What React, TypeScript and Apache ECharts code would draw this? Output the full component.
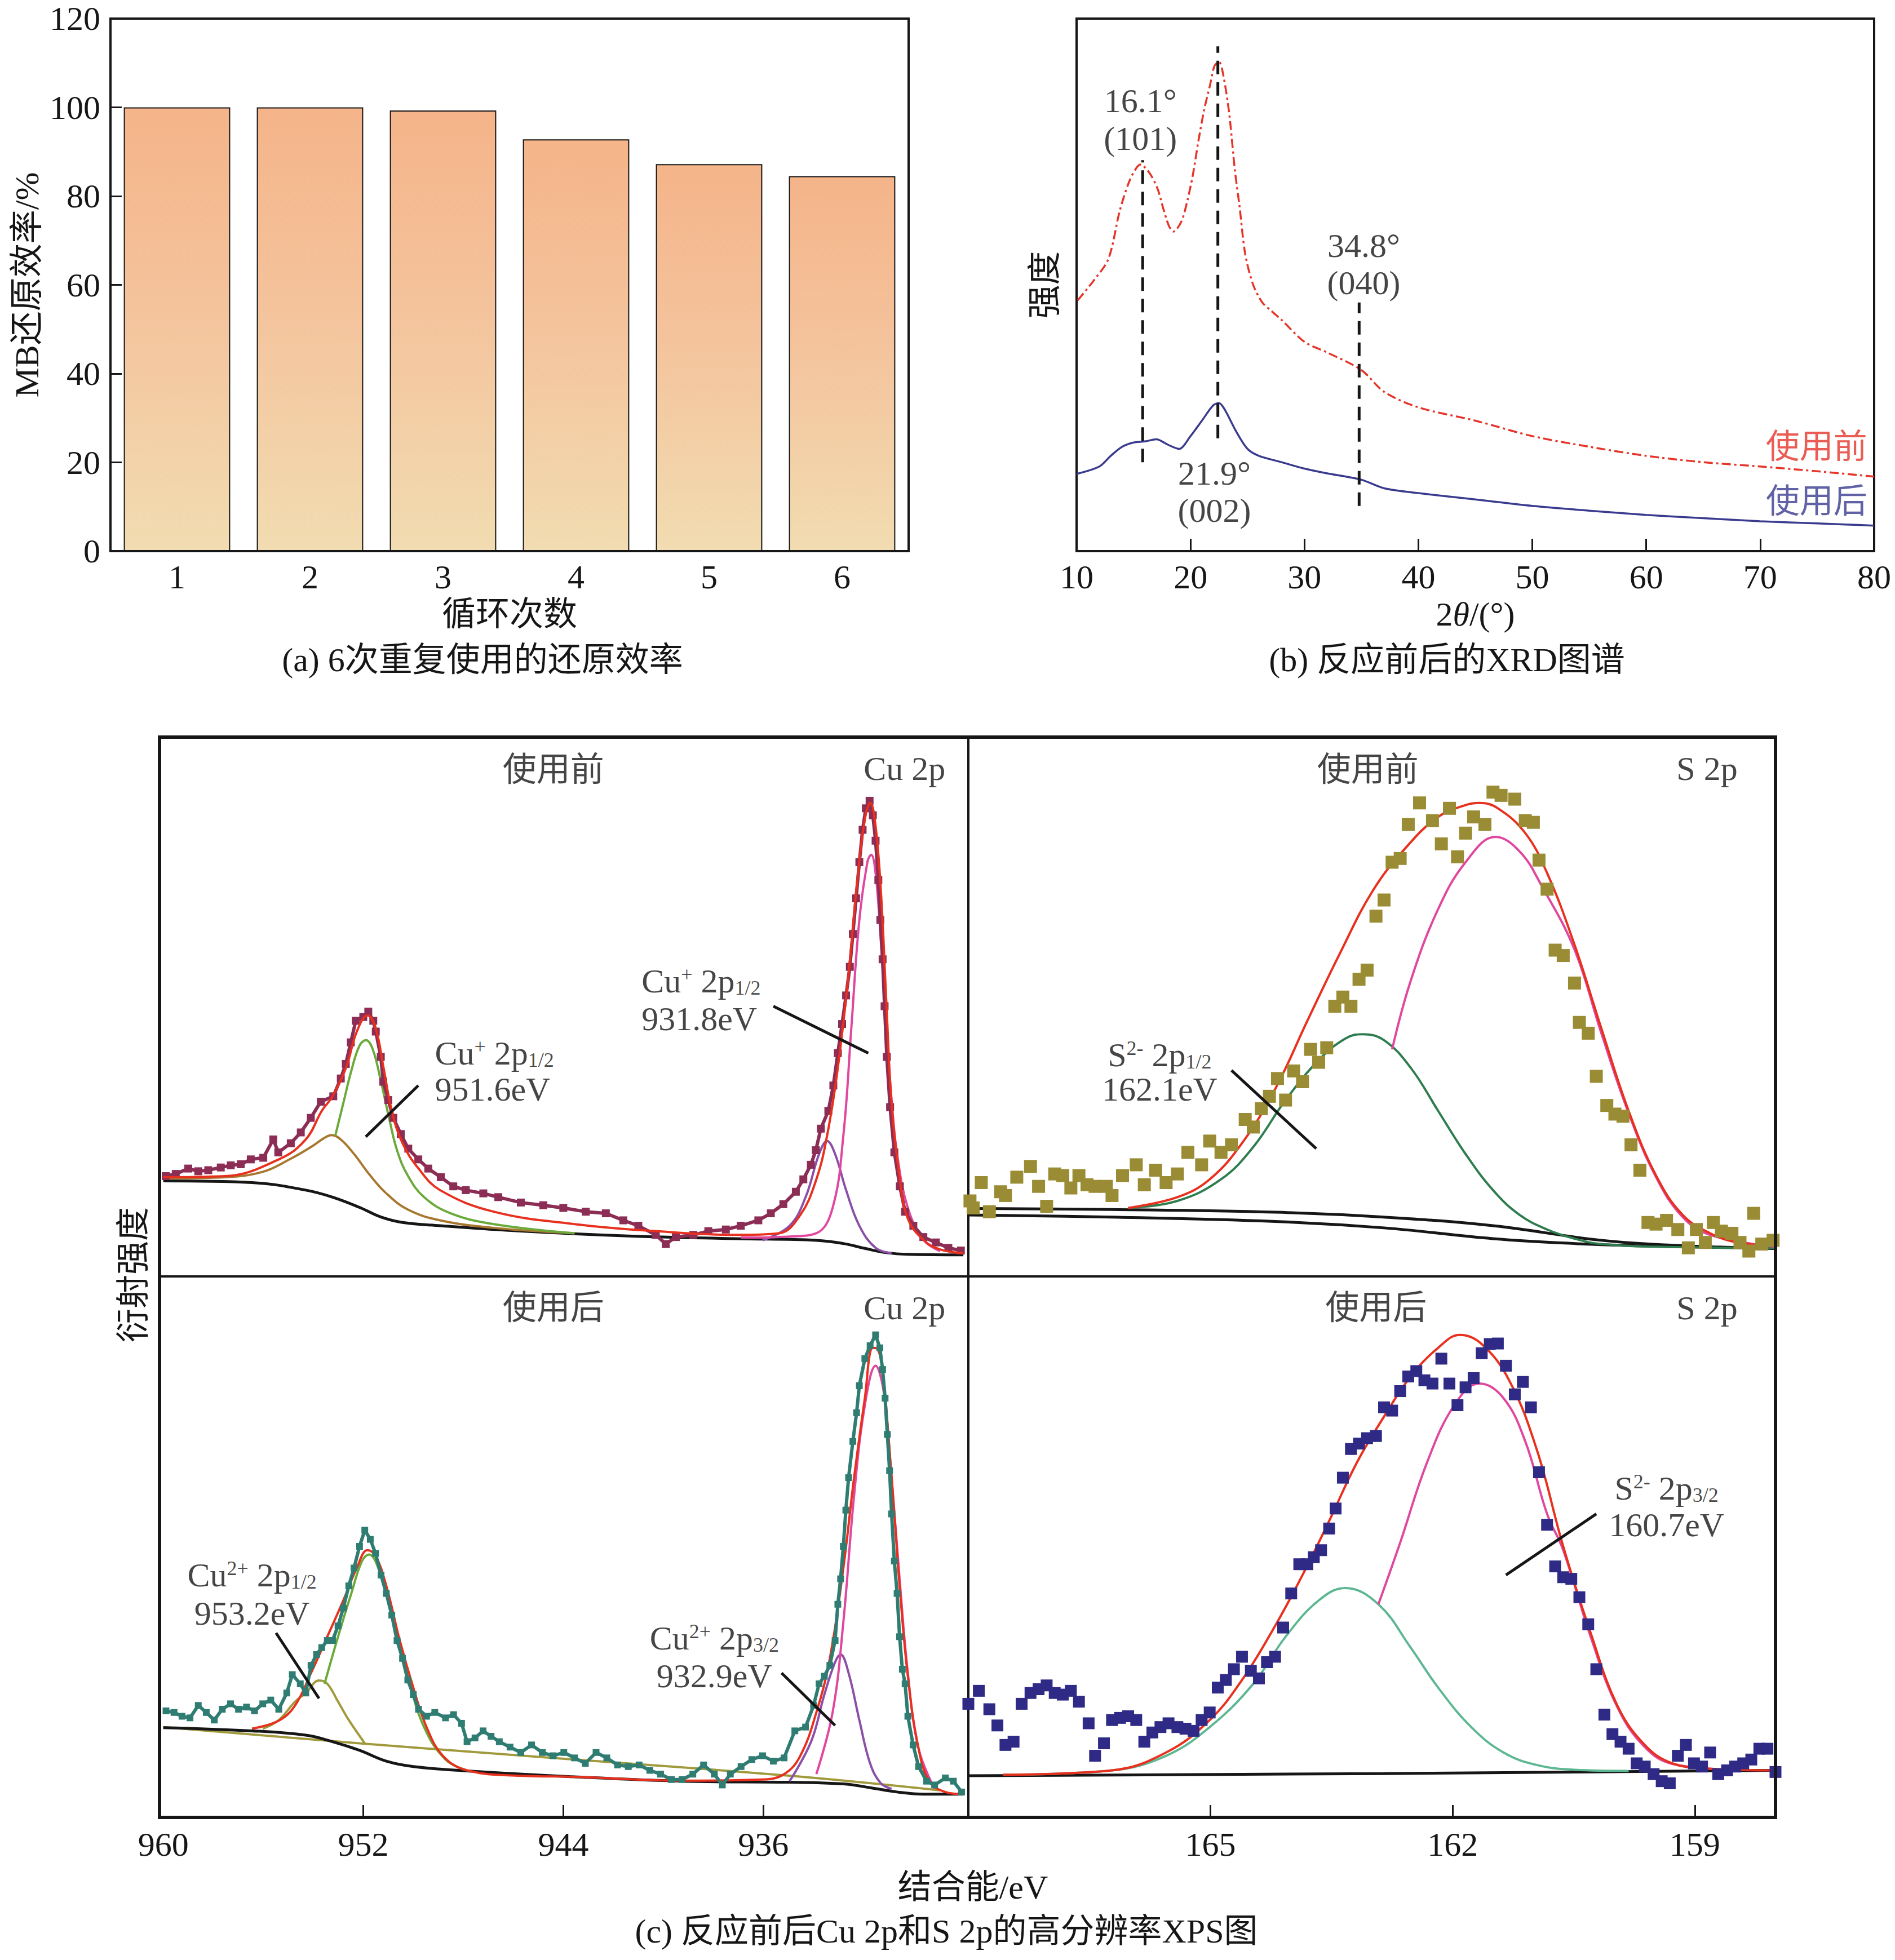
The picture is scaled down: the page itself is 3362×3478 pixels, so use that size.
import React, { useEffect, useRef } from "react";
import * as echarts from "echarts";

const SERIF = "'Liberation Serif', 'Times New Roman', 'Noto Sans CJK SC', serif";
const INK = "#161616";

// (a) 6 cycles of reuse
const cycles = ["1", "2", "3", "4", "5", "6"];
const efficiency = [100, 100, 99.3, 92.8, 87.2, 84.5];

// (b) XRD, [2theta, intensity]
const xrdBefore = [
  [10.1, 47.1], [11.5, 50.8], [12.8, 54.9], [13.8, 64.0], [14.6, 69.3], [15.2, 71.8], [15.6, 72.6],
  [16.4, 71.0], [17.1, 68.1], [17.6, 64.4], [18.1, 61.1], [18.5, 60.0], [19.2, 61.9], [19.7, 65.6],
  [20.2, 70.6], [20.7, 77.1], [21.2, 82.9], [21.7, 87.4], [22.1, 91.1], [22.5, 91.9], [22.9, 89.1],
  [23.4, 82.1], [23.9, 71.4], [24.3, 64.8], [24.8, 55.8], [25.5, 50.0], [26.3, 46.7], [27.1, 45.1],
  [28, 43.4], [30, 39.3], [32, 37.3], [35, 34], [37, 29.9], [40, 27], [45, 24.5], [50, 21.6],
  [55, 19.6], [60, 17.9], [65, 16.7], [70, 15.9], [75, 15], [80, 14],
];
const xrdAfter = [
  [10, 14.5], [12, 15.9], [13, 17.9], [14, 19.6], [15, 20.4], [16, 20.6], [17, 21], [18, 20],
  [19, 19.2], [20, 21.6], [21, 24.5], [22, 27.4], [22.5, 27.8], [23, 26.6], [24, 22.5], [25, 19.2],
  [26, 17.9], [28, 16.7], [30, 15.5], [32, 14.6], [35, 13.4], [37, 11.8], [40, 10.9], [45, 9.7],
  [50, 8.5], [55, 7.6], [60, 6.8], [65, 6.2], [70, 5.6], [75, 5.2], [80, 4.8],
];
// dashed reference lines: [2theta, from, to]
const xrdPeaks = [[15.8, 16.7, 73.4], [22.4, 21.2, 94.8], [34.8, 8.5, 46.7]];
const xrdNotes = [
  ["16.1°", 15.6, 84.5], ["(101)", 15.6, 77.5],
  ["34.8°", 35.2, 57.4], ["(040)", 35.2, 50.4],
  ["21.9°", 22.1, 14.6], ["(002)", 22.1, 7.6],
];

// (c) XPS, [binding energy eV, intensity]
const cuBeforePts = [
  [959.9, 18.6], [959.5, 19.0], [959.0, 20.0], [958.6, 19.5], [958.2, 19.7], [957.7, 20.2], [957.3, 20.6],
  [956.9, 20.8], [956.5, 21.7], [956.0, 22.0], [955.6, 25.4], [955.4, 23.0], [954.9, 24.7], [954.5, 26.7],
  [954.1, 29.4], [953.7, 32.4], [953.2, 33.4], [952.9, 36.7], [952.7, 39.4], [952.5, 43.4], [952.3, 47.4],
  [952.0, 48.1], [951.8, 49.1], [951.6, 47.4], [951.5, 45.4], [951.3, 40.7], [951.2, 36.1], [951.0, 32.7],
  [950.8, 29.4], [950.5, 26.4], [950.2, 23.7], [949.8, 21.7], [949.4, 20.0], [948.9, 18.4], [948.4, 16.7],
  [947.9, 16.0], [947.2, 15.4], [946.6, 14.7], [945.7, 13.7], [944.8, 13.2], [944.0, 12.7], [943.1, 12.0],
  [942.3, 11.7], [941.6, 10.4], [941.0, 9.4], [940.3, 7.7], [939.9, 6.0], [939.5, 7.3], [938.8, 7.7],
  [938.2, 8.4], [937.5, 8.7], [936.9, 9.4], [936.2, 10.4], [935.7, 11.7], [935.2, 13.4], [934.7, 15.7],
  [934.4, 18.0], [934.1, 20.7], [933.9, 23.4], [933.7, 27.4], [933.4, 30.7], [933.2, 35.4], [933.02, 41.4],
  [932.85, 46.8], [932.69, 52.1], [932.54, 57.4], [932.42, 63.5], [932.29, 70.1], [932.16, 76.8],
  [932.03, 82.8], [931.9, 86.8], [931.75, 88.2], [931.62, 85.5], [931.51, 80.8], [931.4, 73.5],
  [931.32, 66.1], [931.23, 58.8], [931.15, 50.1], [931.06, 40.7], [930.93, 31.4], [930.76, 23.0],
  [930.54, 16.7], [930.33, 12.0], [930.0, 9.4], [929.6, 7.3], [929.1, 6.3], [928.6, 5.3], [928.1, 4.8],
];
const cuBeforeBase = [
  [960, 17.7], [956.45, 17.4], [954.3, 16.0], [953.23, 14.7], [952.15, 12.8], [951.29, 11.0], [950.43, 10.0],
  [948.93, 9.4], [945.7, 8.4], [941.4, 7.5], [937.1, 7.0], [933.88, 6.7], [932.8, 6.1], [931.94, 5.2],
  [931.08, 4.4], [930.22, 4.1], [928, 4.0],
];
const cuBeforeBrown = [
  [959.9, 18.2], [957.53, 18.4], [956.02, 19.4], [954.95, 21.7], [954.09, 24.0], [953.55, 25.7], [953.27, 26.2],
  [952.9, 25.4], [952.37, 22.7], [951.72, 18.7], [951.08, 15.4], [950.22, 12.4], [948.93, 10.4],
  [946.78, 9.0], [943.55, 8.0],
];
const cuBeforeGreen = [
  [953.12, 26.1], [952.8, 32.1], [952.48, 38.1], [952.15, 42.8], [951.89, 43.8], [951.62, 42.1], [951.29, 36.1],
  [950.97, 29.4], [950.65, 23.4], [950.22, 18.7], [949.57, 14.7], [948.5, 11.7], [946.78, 9.7], [943.55, 8.0],
];
const cuBeforeFit = [
  [960, 18.4], [957.53, 18.6], [955.38, 21.7], [954.3, 25.4], [953.66, 30.7], [953.23, 33.4], [952.69, 38.7],
  [952.26, 45.4], [951.83, 48.4], [951.51, 46.1], [951.19, 38.7], [950.86, 30.7], [950.43, 24.7],
  [949.79, 20.0], [948.93, 16.0], [946.78, 12.0], [943.55, 9.7], [940.33, 8.4], [937.1, 7.7], [935.38, 8.0],
  [934.52, 11.4], [933.88, 18.0], [933.45, 26.1], [933.02, 38.7], [932.59, 56.1], [932.27, 72.1],
  [931.94, 84.8], [931.72, 87.8], [931.51, 83.5], [931.29, 70.8], [931.08, 50.8], [930.87, 32.1],
  [930.54, 18.0], [930.22, 10.7], [929.58, 6.7], [928.93, 5.0], [928, 4.3],
];
const cuBeforePink = [
  [936.89, 7.2], [934.95, 7.4], [933.88, 8.0], [933.23, 12.7], [932.8, 26.1], [932.48, 46.1], [932.16, 66.1],
  [931.84, 76.8], [931.69, 78.2], [931.51, 74.8], [931.29, 61.5], [931.08, 46.1], [930.87, 32.7],
  [930.65, 22.7], [930.22, 12.7], [929.58, 6.7], [928.93, 4.7],
];
const cuBeforePurple = [
  [936.03, 6.7], [934.95, 9.4], [934.31, 14.7], [933.77, 22.7], [933.45, 25.1], [933.13, 22.7], [932.69, 16.0],
  [932.16, 9.4], [931.51, 5.3], [930.87, 4.3],
];

const sBeforePts = [
  [167.98, 14.0], [167.94, 12.7], [167.84, 17.4], [167.74, 12.0], [167.6, 15.7], [167.54, 15.0], [167.4, 18.4],
  [167.23, 20.4], [167.13, 16.7], [167.03, 13.0], [166.93, 19.0], [166.83, 18.7], [166.73, 16.4], [166.63, 18.7],
  [166.53, 17.0], [166.43, 16.7], [166.29, 16.7], [166.22, 15.0], [166.09, 18.7], [165.92, 20.7], [165.82, 17.0],
  [165.68, 19.7], [165.55, 17.4], [165.41, 19.0], [165.28, 23.0], [165.11, 20.7], [165.01, 25.1], [164.87, 23.0],
  [164.74, 24.4], [164.57, 29.1], [164.47, 27.7], [164.37, 31.1], [164.27, 33.4], [164.17, 36.7], [164.07, 32.7],
  [163.97, 38.1], [163.86, 36.1], [163.76, 42.1], [163.66, 39.7], [163.56, 42.4], [163.46, 50.1], [163.36, 51.8],
  [163.26, 50.1], [163.16, 55.1], [163.06, 56.8], [162.95, 66.8], [162.85, 69.8], [162.75, 76.8], [162.65, 77.5],
  [162.55, 83.8], [162.41, 87.8], [162.25, 84.5], [162.14, 80.2], [162.04, 86.8], [161.94, 77.8], [161.84, 82.2],
  [161.74, 85.2], [161.6, 83.8], [161.5, 89.8], [161.4, 89.2], [161.23, 88.5], [161.1, 84.5], [161.0, 84.2],
  [160.93, 77.2], [160.83, 71.8], [160.73, 60.5], [160.63, 59.5], [160.49, 54.4], [160.43, 47.1], [160.32, 45.1],
  [160.22, 37.1], [160.09, 31.7], [159.99, 30.1], [159.89, 29.7], [159.79, 24.4], [159.68, 19.7], [159.58, 10.0],
  [159.48, 9.7], [159.35, 10.4], [159.21, 8.7], [159.08, 5.3], [158.98, 8.7], [158.87, 6.3], [158.77, 10.0],
  [158.67, 8.4], [158.54, 8.0], [158.44, 6.3], [158.33, 4.7], [158.27, 11.7], [158.17, 6.0], [158.03, 6.7],
];
const sBeforeBaseA = [[168, 12.6], [166.22, 12.4], [164.2, 11.9], [162.85, 11.0], [161.5, 9.4], [160.16, 6.7], [159.15, 5.7], [158, 5.2]];
const sBeforeBaseB = [[168, 11.4], [166.22, 11.0], [164.2, 10.2], [162.85, 9.0], [161.5, 7.0], [160.49, 6.1], [159.48, 5.6], [158, 5.2]];
const sBeforeGreen = [
  [166.02, 12.7], [165.41, 14.0], [164.87, 18.0], [164.47, 24.0], [164.07, 32.7], [163.66, 40.1], [163.33, 44.1],
  [163.12, 44.9], [162.85, 43.8], [162.52, 38.7], [162.18, 30.7], [161.84, 22.7], [161.5, 16.0], [161.17, 11.4],
  [160.83, 8.7], [160.49, 7.0], [160.16, 6.0], [159.48, 5.5], [158, 5.3],
];
const sBeforePink = [
  [162.75, 42.1], [162.52, 54.8], [162.18, 68.1], [161.84, 76.8], [161.47, 81.5], [161.17, 78.8], [160.9, 72.5],
  [160.49, 60.6], [160.16, 45.2], [159.82, 30.3], [159.48, 18.4], [159.15, 11.0], [158.81, 7.7], [158, 5.5],
];
const sBeforeFit = [
  [166.02, 12.7], [165.41, 14.7], [165.01, 18.0], [164.61, 24.7], [164.2, 34.7], [163.8, 47.4], [163.39, 60.1],
  [162.99, 71.5], [162.58, 79.5], [162.18, 85.2], [161.84, 87.4], [161.67, 87.8], [161.44, 86.8], [161.1, 82.2],
  [160.83, 74.8], [160.49, 61.5], [160.16, 46.1], [159.82, 30.7], [159.48, 18.7], [159.15, 11.4], [158.81, 8.0],
  [158.47, 6.3], [158, 5.7],
];

const cuAfterPts = [
  [959.89, 19.7], [959.57, 19.4], [959.25, 18.7], [958.93, 18.4], [958.6, 20.7], [958.28, 19.4], [957.96, 18.0],
  [957.64, 20.0], [957.31, 21.0], [956.99, 20.0], [956.67, 20.4], [956.35, 19.7], [956.02, 21.0], [955.7, 21.7],
  [955.38, 20.0], [955.06, 23.0], [954.84, 26.4], [954.52, 24.7], [954.3, 23.0], [954.09, 28.1], [953.87, 30.1],
  [953.66, 31.4], [953.44, 32.7], [953.23, 32.7], [953.01, 35.4], [952.8, 38.7], [952.58, 42.8], [952.37, 46.1],
  [952.15, 50.1], [951.94, 53.1], [951.72, 51.4], [951.51, 48.8], [951.29, 44.8], [951.08, 41.4], [950.86, 37.4],
  [950.65, 32.7], [950.43, 29.4], [950.22, 25.4], [950.0, 22.7], [949.79, 20.0], [949.47, 18.7], [949.14, 19.4],
  [948.71, 18.4], [948.39, 19.0], [948.07, 17.4], [947.85, 14.0], [947.53, 14.7], [947.21, 16.0], [946.89, 15.0],
  [946.56, 14.0], [946.13, 13.0], [945.7, 12.0], [945.27, 13.4], [944.84, 12.0], [944.41, 11.4], [943.98, 12.0],
  [943.55, 11.0], [943.12, 10.0], [942.69, 12.0], [942.26, 11.0], [941.83, 9.7], [941.4, 9.4], [940.97, 9.7],
  [940.54, 8.7], [940.11, 8.0], [939.68, 7.0], [939.25, 7.0], [938.82, 8.0], [938.39, 9.7], [937.96, 8.0],
  [937.64, 6.0], [937.32, 8.0], [936.89, 9.4], [936.46, 10.7], [936.03, 11.4], [935.6, 10.4], [935.17, 11.0],
  [934.74, 16.0], [934.31, 16.7], [933.99, 20.7], [933.77, 24.7], [933.56, 26.1], [933.34, 28.1], [933.13, 32.7],
  [933.02, 39.4], [932.91, 44.1], [932.8, 50.1], [932.7, 56.8], [932.59, 62.8], [932.42, 69.5], [932.27, 74.8],
  [932.16, 79.8], [931.94, 84.8], [931.73, 87.2], [931.51, 89.2], [931.34, 86.8], [931.23, 82.8], [931.13, 77.5],
  [931.04, 70.8], [930.95, 64.1], [930.87, 56.1], [930.76, 47.4], [930.65, 41.4], [930.55, 33.4], [930.44, 27.4],
  [930.33, 24.7], [930.22, 18.7], [930.01, 13.4], [929.79, 9.4], [929.47, 6.7], [929.15, 6.0], [928.72, 7.3],
  [928.4, 6.7], [928.07, 4.7],
];
const cuAfterBase = [
  [960, 16.6], [956.45, 16.0], [954.3, 15.2], [953.23, 14.0], [952.15, 12.4], [951.08, 10.4], [950, 9.4],
  [947.85, 8.6], [943.55, 7.5], [939.25, 6.7], [934.95, 6.5], [932.8, 6.2], [931.73, 5.5], [930.65, 4.7],
  [929.58, 4.3], [928, 4.3],
];
const cuAfterLinear = [[960, 16.7], [952.15, 13.7], [943.55, 10.7], [934.95, 7.7], [928.93, 5.0]];
const cuAfterOlive = [
  [956.02, 16.4], [955.38, 18.0], [954.73, 21.4], [954.3, 23.0], [953.77, 25.3], [953.44, 24.7], [953.01, 21.4],
  [952.58, 18.0], [951.94, 13.7],
];
const cuAfterGreen = [
  [953.55, 24.7], [953.01, 33.4], [952.48, 41.4], [952.05, 47.4], [951.77, 48.6], [951.4, 46.1], [950.86, 37.4],
  [950.22, 26.1], [949.57, 16.7], [948.71, 10.7], [947.85, 8.7],
];
const cuAfterFit = [
  [956.45, 16.4], [955.38, 17.9], [954.73, 20.7], [954.09, 26.7], [953.44, 33.4], [952.8, 40.1], [952.26, 46.1],
  [951.83, 49.4], [951.51, 48.4], [951.08, 42.8], [950.54, 32.7], [950, 24.0], [949.47, 16.7], [948.82, 11.4],
  [947.85, 8.7], [945.7, 7.7], [943.55, 7.5], [939.25, 6.8], [936.03, 7.0], [935.17, 8.0], [934.52, 11.4],
  [933.88, 19.4], [933.34, 29.4], [932.8, 46.1], [932.37, 62.8], [931.94, 77.5], [931.62, 86.8], [931.41, 86.5],
  [931.19, 80.8], [930.98, 69.5], [930.76, 56.1], [930.55, 42.8], [930.22, 26.1], [929.79, 12.7], [929.36, 6.7],
  [928.72, 4.7], [928, 4.3],
];
const cuAfterPink = [
  [933.88, 8.0], [933.23, 19.4], [932.8, 36.1], [932.37, 59.5], [931.94, 76.2], [931.51, 83.5], [931.19, 78.8],
  [930.87, 62.8], [930.55, 44.1], [930.22, 26.7], [929.79, 12.7], [929.15, 5.3],
];
const cuAfterPurple = [
  [934.95, 6.7], [934.09, 14.0], [933.56, 22.7], [933.13, 28.7], [932.91, 30.1], [932.59, 26.7], [932.16, 18.0],
  [931.73, 10.0], [931.3, 6.3], [930.87, 5.3],
];

const sAfterPts = [
  [168.0, 21.0], [167.87, 23.4], [167.74, 20.0], [167.64, 17.0], [167.54, 13.4], [167.44, 14.0], [167.34, 21.0],
  [167.23, 23.0], [167.13, 23.7], [167.03, 24.4], [166.93, 23.0], [166.83, 22.7], [166.73, 23.4], [166.63, 21.4],
  [166.51, 17.4], [166.43, 11.4], [166.32, 13.7], [166.22, 18.0], [166.12, 18.4], [166.02, 18.7], [165.92, 18.0],
  [165.82, 14.0], [165.72, 15.7], [165.62, 16.7], [165.52, 17.4], [165.41, 16.7], [165.31, 16.4], [165.21, 16.0],
  [165.11, 18.0], [165.01, 19.4], [164.91, 24.0], [164.81, 25.4], [164.71, 27.4], [164.61, 29.7], [164.5, 27.1],
  [164.4, 25.7], [164.3, 28.7], [164.2, 29.7], [164.1, 35.1], [164.0, 41.4], [163.9, 46.8], [163.8, 46.8],
  [163.72, 48.1], [163.63, 49.4], [163.53, 53.4], [163.45, 57.1], [163.36, 62.8], [163.26, 68.1], [163.16, 69.1],
  [163.06, 70.1], [162.95, 70.5], [162.85, 75.8], [162.75, 75.2], [162.65, 78.8], [162.55, 81.5], [162.45, 82.5],
  [162.35, 80.8], [162.25, 80.2], [162.14, 84.8], [162.04, 80.2], [161.94, 76.2], [161.84, 79.5], [161.74, 81.2],
  [161.64, 85.8], [161.54, 87.5], [161.44, 87.6], [161.34, 83.5], [161.23, 78.2], [161.13, 80.5], [161.03, 75.8],
  [160.93, 63.8], [160.83, 54.1], [160.73, 46.4], [160.63, 44.4], [160.53, 44.1], [160.43, 40.7], [160.32, 35.7],
  [160.22, 27.4], [160.12, 19.0], [160.02, 15.4], [159.92, 14.0], [159.82, 12.7], [159.72, 10.0], [159.62, 9.4],
  [159.51, 8.0], [159.41, 6.7], [159.31, 6.3], [159.21, 11.4], [159.11, 13.4], [159.01, 10.0], [158.91, 9.4],
  [158.81, 12.0], [158.71, 8.0], [158.6, 8.7], [158.5, 9.4], [158.4, 10.0], [158.3, 10.7], [158.2, 12.7],
  [158.1, 12.7], [158.0, 8.4],
];
const sAfterBase = [[168, 7.7], [162.85, 8.1], [158, 8.7]];
const sAfterGreen = [
  [167.57, 7.9], [166.22, 8.7], [165.55, 11.4], [165.01, 16.7], [164.47, 24.7], [164.07, 33.4], [163.66, 40.1],
  [163.33, 42.4], [162.92, 39.4], [162.52, 31.4], [162.18, 24.0], [161.77, 16.7], [161.37, 12.0], [160.96, 9.7],
  [160.49, 8.8], [159.82, 8.6],
];
const sAfterPink = [
  [162.92, 39.4], [162.65, 50.8], [162.32, 65.5], [161.98, 76.2], [161.67, 80.2], [161.37, 77.5], [161.1, 69.5],
  [160.83, 56.1], [160.63, 49.4], [160.29, 33.4], [159.96, 20.4], [159.62, 13.0], [159.28, 9.9], [158.47, 8.8],
];
const sAfterFit = [
  [167.57, 7.9], [166.22, 8.7], [165.55, 12.0], [165.01, 18.0], [164.61, 25.4], [164.2, 35.4], [163.86, 44.8],
  [163.53, 54.8], [163.19, 65.5], [162.85, 74.1], [162.52, 81.5], [162.18, 86.8], [161.91, 89.2], [161.64, 87.5],
  [161.3, 80.8], [160.96, 68.1], [160.63, 50.1], [160.29, 34.1], [159.96, 20.7], [159.62, 13.4], [159.28, 10.0],
  [158.81, 9.0], [158, 8.7],
];

// annotation texts: [text, x, y, align]
const cuBeforeNotes = [
  ["使用前", 944.4, 93.9, "center"], ["Cu 2p", 928.72, 94.2, "right"],
  ["Cu{sup|+} 2p{sub|1/2}", 949.14, 41.4, "left"], ["951.6eV", 949.14, 34.7, "left"],
  ["Cu{sup|+} 2p{sub|1/2}", 940.87, 54.8, "left"], ["931.8eV", 940.87, 47.8, "left"],
];
const cuBeforeLeaders = [[[949.8, 35.4], [951.9, 25.9]], [[935.6, 50.1], [931.8, 41.4]]];
const sBeforeNotes = [
  ["使用前", 163.05, 93.9, "center"], ["S 2p", 158.47, 94.2, "right"],
  ["S{sup|2-} 2p{sub|1/2}", 165.63, 41.1, "center"], ["162.1eV", 165.63, 34.7, "center"],
];
const sBeforeLeaders = [[[164.74, 38.2], [163.69, 23.7]]];
const cuAfterNotes = [
  ["使用后", 944.4, 94.2, "center"], ["Cu 2p", 928.72, 94.2, "right"],
  ["Cu{sup|2+} 2p{sub|1/2}", 956.45, 44.8, "center"], ["953.2eV", 956.45, 37.7, "center"],
  ["Cu{sup|2+} 2p{sub|3/2}", 937.96, 33.1, "center"], ["932.9eV", 937.96, 26.1, "center"],
];
const cuAfterLeaders = [[[955.49, 34.1], [953.77, 22.0]], [[935.27, 26.7], [933.13, 17.0]]];
const sAfterNotes = [
  ["使用后", 162.95, 94.2, "center"], ["S 2p", 158.47, 94.2, "right"],
  ["S{sup|2-} 2p{sub|3/2}", 159.35, 60.8, "center"], ["160.7eV", 159.35, 54.1, "center"],
];
const sAfterLeaders = [[[160.22, 56.1], [161.34, 44.8]]];

const cuRange = [927.8, 960.15];
const sRange = [158, 168];
const cuTickVals = [952, 944, 936];
const cuLabelVals = [960, 952, 944, 936];
const sTickVals = [165, 162, 159];

const font = (size = 60, color = INK) => ({ fontFamily: SERIF, fontSize: size, color });
const rich = {
  sup: { fontFamily: SERIF, fontSize: 36, color: INK, verticalAlign: "top" },
  sub: { fontFamily: SERIF, fontSize: 36, color: INK, verticalAlign: "bottom" },
};

const curve = (g: number, data: number[][], color: string, width = 4, extra: any = {}) => ({
  type: "line", xAxisIndex: g, yAxisIndex: g, data, symbol: "none", smooth: 0.4,
  silent: true, z: 3, lineStyle: { color, width }, ...extra,
});

const notes = (g: number, items: any[], color = INK) => ({
  type: "scatter", xAxisIndex: g, yAxisIndex: g, symbolSize: 1, silent: true, z: 20,
  itemStyle: { color: "rgba(0,0,0,0)" },
  data: items.map((n) => ({
    name: n[0], value: [n[1], n[2]],
    label: { align: n[3] || "center", color: n[4] || color },
  })),
  label: {
    show: true, position: "inside", formatter: (p: any) => p.name,
    ...font(60, color), lineHeight: 60, rich,
  },
});

const leaders = (g: number, segs: number[][][]) =>
  segs.map((s) => curve(g, s, INK, 5, { smooth: false, z: 15 }));

const points = (g: number, data: number[][], color: string, size: number, joined: boolean) =>
  joined
    ? { type: "line", xAxisIndex: g, yAxisIndex: g, data, symbol: "rect", symbolSize: size,
        showAllSymbol: true, silent: true, z: 8, itemStyle: { color }, lineStyle: { color, width: 6 } }
    : { type: "scatter", xAxisIndex: g, yAxisIndex: g, data, symbol: "rect", symbolSize: size,
        silent: true, z: 8, itemStyle: { color, opacity: 1 } };

const xpsX = (g: number, range: number[], ticks?: number[], labels?: number[]) => ({
  type: "value", gridIndex: g, min: range[0], max: range[1], inverse: true,
  axisLine: { show: false }, splitLine: { show: false },
  axisTick: ticks
    ? { show: true, inside: true, length: 22, customValues: ticks, lineStyle: { color: INK, width: 3 } }
    : { show: false },
  axisLabel: labels ? { show: true, margin: 18, customValues: labels, ...font() } : { show: false },
});
const xpsY = (g: number) => ({ type: "value", gridIndex: g, min: 0, max: 100, show: false });

const gridBox = (left: number, top: number, width: number, height: number) => ({
  left, top, width, height, show: true, borderColor: INK, borderWidth: 4, backgroundColor: "transparent",
});

const gtext = (text: string, x: number, y: number, extra: any = {}) => ({
  type: "text", x, y, silent: true, ...extra,
  style: {
    text, fill: INK, fontFamily: SERIF, fontSize: 60,
    align: "center", verticalAlign: "middle", textAlign: "center", textVerticalAlign: "middle",
  },
});

function buildOption() {
  const barFill = new echarts.graphic.LinearGradient(0, 0, 0, 1, [
    { offset: 0, color: "#F5B489" },
    { offset: 0.45, color: "#F4C39C" },
    { offset: 1, color: "#F2DCB1" },
  ]);
  const RED = "#E8301E";
  return {
    animation: false,
    backgroundColor: "#fff",
    grid: [
      gridBox(196, 33, 1416, 945),
      gridBox(1910, 33, 1415, 945),
      gridBox(283, 1308, 1435, 957),
      gridBox(1718, 1308, 1432, 957),
      gridBox(283, 2265, 1435, 960),
      gridBox(1718, 2265, 1432, 960),
    ],
    xAxis: [
      {
        type: "category", gridIndex: 0, data: cycles, z: 6,
        axisLine: { show: false },
        axisTick: { inside: true, alignWithLabel: true, length: 22, lineStyle: { color: INK, width: 3 } },
        axisLabel: { margin: 16, ...font() },
        name: "循环次数", nameLocation: "middle", nameGap: 82, nameTextStyle: font(),
      },
      {
        type: "value", gridIndex: 1, min: 10, max: 80, interval: 10,
        axisLine: { show: false }, splitLine: { show: false },
        axisTick: { inside: true, length: 22, lineStyle: { color: INK, width: 3 } },
        axisLabel: { margin: 16, ...font() },
        name: "2{i|θ}/(°)", nameLocation: "middle", nameGap: 82,
        nameTextStyle: { ...font(), rich: { i: { ...font(), fontStyle: "italic" } } },
      },
      xpsX(2, cuRange),
      xpsX(3, sRange),
      xpsX(4, cuRange, cuTickVals, cuLabelVals),
      xpsX(5, sRange, sTickVals, sTickVals),
    ],
    yAxis: [
      {
        type: "value", gridIndex: 0, min: 0, max: 120, interval: 20,
        axisLine: { show: false }, splitLine: { show: false },
        axisTick: { show: true, inside: true, length: 20, lineStyle: { color: INK, width: 3 } },
        axisLabel: { margin: 18, ...font() },
        name: "MB还原效率/%", nameLocation: "middle", nameGap: 118, nameTextStyle: font(),
      },
      {
        type: "value", gridIndex: 1, min: 0, max: 100,
        axisLine: { show: false }, splitLine: { show: false },
        axisTick: { show: false }, axisLabel: { show: false },
        name: "强度", nameLocation: "middle", nameGap: 26, nameTextStyle: font(),
      },
      xpsY(2), xpsY(3), xpsY(4), xpsY(5),
    ],
    series: [
      {
        type: "bar", xAxisIndex: 0, yAxisIndex: 0, data: efficiency, barCategoryGap: "20%",
        itemStyle: { color: barFill, borderColor: INK, borderWidth: 2 },
      },
      // (b)
      curve(1, xrdBefore, "#E5352A", 3.5, { smooth: 0.3, lineStyle: { color: "#E5352A", width: 3.5, type: [16, 6, 4, 6] } }),
      curve(1, xrdAfter, "#3A3B8E", 3.5, { smooth: 0.3 }),
      ...xrdPeaks.map((p) =>
        curve(1, [[p[0], p[1]], [p[0], p[2]]], INK, 5, { smooth: false, z: 5, lineStyle: { color: INK, width: 5, type: [24, 14] } })),
      notes(1, [...xrdNotes, ["使用前", 79.4, 19.6, "right", "#E5352A"], ["使用后", 79.4, 9.3, "right", "#3A3B8E"]]),
      // (c) Cu 2p before
      curve(2, cuBeforeBase, INK, 5),
      curve(2, cuBeforeBrown, "#A8772F"),
      curve(2, cuBeforeGreen, "#6BAA3A"),
      curve(2, cuBeforePurple, "#8B4FA8"),
      curve(2, cuBeforePink, "#E0479E"),
      points(2, cuBeforePts, "#8C2D55", 14, true),
      curve(2, cuBeforeFit, RED, 4, { z: 9 }),
      ...leaders(2, cuBeforeLeaders),
      notes(2, cuBeforeNotes),
      // S 2p before
      curve(3, sBeforeBaseA, INK, 5),
      curve(3, sBeforeBaseB, INK, 5),
      curve(3, sBeforeGreen, "#2E7D4F"),
      curve(3, sBeforePink, "#E0479E"),
      curve(3, sBeforeFit, RED),
      points(3, sBeforePts, "#9A8C34", 23, false),
      ...leaders(3, sBeforeLeaders),
      notes(3, sBeforeNotes),
      // Cu 2p after
      curve(4, cuAfterLinear, "#A09A3C"),
      curve(4, cuAfterBase, INK, 5),
      curve(4, cuAfterOlive, "#A09A3C"),
      curve(4, cuAfterGreen, "#6BAA3A"),
      curve(4, cuAfterPurple, "#8B4FA8"),
      curve(4, cuAfterPink, "#E0479E"),
      curve(4, cuAfterFit, RED),
      points(4, cuAfterPts, "#2F7D72", 12, true),
      ...leaders(4, cuAfterLeaders),
      notes(4, cuAfterNotes),
      // S 2p after
      curve(5, sAfterBase, INK, 5, { smooth: false }),
      curve(5, sAfterGreen, "#5DB792"),
      curve(5, sAfterPink, "#E0479E"),
      curve(5, sAfterFit, RED),
      points(5, sAfterPts, "#2E2A86", 21, false),
      ...leaders(5, sAfterLeaders),
      notes(5, sAfterNotes),
    ],
    graphic: [
      gtext("(a) 6次重复使用的还原效率", 856, 1171),
      gtext("(b) 反应前后的XRD图谱", 2567, 1171),
      gtext("结合能/eV", 1726, 3349),
      gtext("(c) 反应前后Cu 2p和S 2p的高分辨率XPS图", 1679, 3427),
      gtext("衍射强度", 237, 2262, { rotation: Math.PI / 2 }),
      {
        type: "rect", silent: true, z: 100,
        shape: { x: 283, y: 1308, width: 2867, height: 1917 },
        style: { fill: "none", stroke: INK, lineWidth: 6 },
      },
    ],
  };
}

export default function App() {
  const ref = useRef<HTMLDivElement>(null);

  useEffect(() => {
    document.body.style.margin = "0";
    if (!ref.current) return;
    const chart = echarts.init(ref.current, undefined, { renderer: "svg" });
    chart.setOption(buildOption() as any);
    return () => {
      chart.dispose();
    };
  }, []);

  return <div ref={ref} style={{ width: 3362, height: 3478, background: "#fff" }} />;
}
